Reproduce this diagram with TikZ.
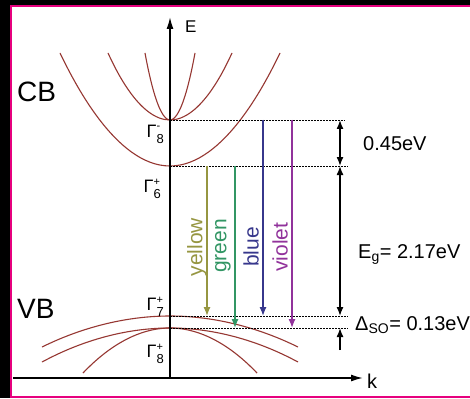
\documentclass[tikz,border=0pt]{standalone}
\usepackage{fontspec}
\setmainfont{Liberation Sans}
\usetikzlibrary{arrows.meta,positioning}
\definecolor{framec}{RGB}{230,0,126}
\definecolor{bandc}{RGB}{150,55,50}
\definecolor{yellowc}{RGB}{150,150,65}
\definecolor{greenc}{RGB}{50,150,100}
\definecolor{bluec}{RGB}{55,55,140}
\definecolor{violetc}{RGB}{145,50,155}
\newcommand{\gamlbl}[2]{Γ\rlap{\raisebox{7pt}{\fontsize{11}{11}\selectfont #1}}\raisebox{-6pt}{\fontsize{13}{13}\selectfont #2}}
\tikzset{
  >={Latex[length=9pt,width=7pt]},
  axis/.style={line width=1.6pt, -{Latex[length=12pt,width=7pt]}},
  band/.style={bandc, line width=1.1pt},
  level/.style={dash pattern=on 2pt off 1pt, line width=0.9pt},
  emit/.style={line width=1.3pt, ->},
  gap/.style={line width=1.4pt},
  lbl/.style={inner sep=0pt, font=\fontsize{20}{24}\selectfont},
  big/.style={inner sep=0pt, font=\fontsize{28}{32}\selectfont},
  gam/.style={inner sep=0pt, font=\fontsize{18}{20}\selectfont, anchor=base east},
  clr/.style={inner sep=0pt, rotate=90, font=\fontsize{21}{24}\selectfont},
}

\begin{document}
\begin{tikzpicture}[x=1pt, y=-1pt]
  \useasboundingbox (0,0) rectangle (470,398);
  \fill[black] (0,0) rectangle (470,398);
  \draw[framec, line width=2pt, fill=white] (11,6) rectangle (480,397);

  \coordinate (origin) at (170,378);
  \coordinate (etop) at (170,17);
  \coordinate (kstart) at (13,378);
  \coordinate (kend) at (363,378);

  \coordinate (g8m) at (170,120);
  \coordinate (g6p) at (170,166);
  \coordinate (g7p) at (170,316);
  \coordinate (g8p) at (170,328);

  \coordinate (r8m) at (345,120);
  \coordinate (r6p) at (348,166);
  \coordinate (r7p) at (348,316);
  \coordinate (r8p) at (348,328);

  \draw[band] (60,53) parabola bend (g6p) (280,53);
  \draw[band] (108,53) parabola bend (g8m) (232,53);
  \draw[band] (145,53) parabola bend (g8m) (195,53);
  \draw[band] (42,347) parabola bend (g7p) (298,347);
  \draw[band] (42,362) parabola bend (g8p) (298,362);
  \draw[band] (83,373) parabola bend (g8p) (257,373);

  \draw[level] (g8m) -- (r8m);
  \draw[level] (g6p) -- (r6p);
  \draw[level] (g7p) -- (r7p);
  \draw[level] (g8p) -- (r8p);

  \draw[axis] (origin) -- (etop);
  \draw[axis] (kstart) -- (kend);

  \coordinate (ya) at (207,166);
  \coordinate (yb) at (207,316);
  \coordinate (ga) at (235,166);
  \coordinate (gb) at (235,328);
  \coordinate (ba) at (263,120);
  \coordinate (bb) at (263,316);
  \coordinate (va) at (292,120);
  \coordinate (vb) at (292,328);
  \draw[emit, yellowc] (ya) -- (yb);
  \draw[emit, greenc] (ga) -- (gb);
  \draw[emit, bluec] (ba) -- (bb);
  \draw[emit, violetc] (va) -- (vb);

  \node[clr, text=yellowc] (lyellow) at (197,247) {yellow};
  \node[clr, text=greenc] (lgreen) at (223,246) {green};
  \node[clr, text=bluec] (lblue) at (251,247) {blue};
  \node[clr, text=violetc] (lviolet) at (280,247) {violet};

  \coordinate (s1) at (340,120);
  \coordinate (s2) at (340,166);
  \coordinate (s3) at (340,316);
  \coordinate (s4) at (340,328);
  \coordinate (s5) at (340,350);
  \draw[gap, <->] (s1) -- (s2);
  \draw[gap, <->] (s2) -- (s3);
  \draw[gap, ->] (s5) -- (s4);

  \node[lbl, anchor=base west] (l045) at (363,150) {0.45eV};
  \node[lbl, anchor=base west] (leg) at (358,258) {E\textsubscript{g}= 2.17eV};
  \node[lbl, anchor=base west] (lso) at (355,330) {Δ\textsubscript{SO}= 0.13eV};

  \node[big, anchor=base west] (cb) at (17,102) {CB};
  \node[big, anchor=base west] (vb) at (17,318) {VB};
  \node[inner sep=0pt, font=\fontsize{17}{20}\selectfont, anchor=base west] (le) at (185,33) {E};
  \node[lbl, anchor=base west] (lk) at (367,388) {k};

  \node[gam] (lg8m) at (164,137) {\gamlbl{-}{8}};
  \node[gam] (lg6p) at (161,192) {\gamlbl{+}{6}};
  \node[gam] (lg7p) at (164,310) {\gamlbl{+}{7}};
  \node[gam] (lg8p) at (164,357) {\gamlbl{+}{8}};
\end{tikzpicture}
\end{document}
